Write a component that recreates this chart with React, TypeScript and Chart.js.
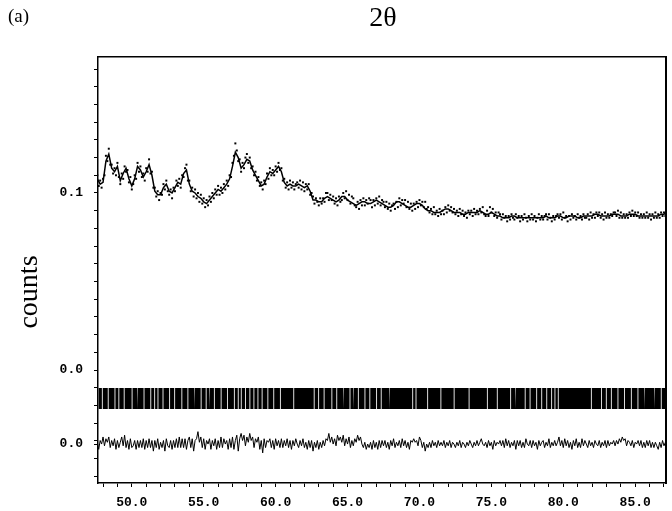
import React, { useEffect, useRef } from 'react';
import { Chart, registerables } from 'chart.js';

Chart.register(...registerables);

// ---- axis ranges / labels ----
const X_MIN = 47.65;
const X_MAX = 87.14;
const Y_MIN = -0.0638;
const Y_MAX = 0.1768;
const xMinorStep = 1;
const xMajorEvery = 5;
const yMinorStep = 0.01;
const diffOffset = -0.0418;
const yLabelValues = [0.1, 0.0, diffOffset];
const yLabelTexts = ['0.1', '0.0', '0.0'];

// ---- calculated profile (2θ start/step) ----
const calcStart = 47.6;
const calcStep = 0.2;
const calcValues = [
  0.108,0.105,0.106,0.118,0.122,0.114,0.112,0.115,0.107,0.111,
  0.114,0.108,0.104,0.108,0.115,0.113,0.109,0.112,0.116,0.110,
  0.101,0.099,0.099,0.103,0.105,0.101,0.100,0.103,0.106,0.105,
  0.111,0.113,0.105,0.101,0.100,0.098,0.097,0.095,0.094,0.096,
  0.098,0.100,0.102,0.101,0.103,0.105,0.108,0.115,0.123,0.120,
  0.114,0.116,0.119,0.118,0.113,0.110,0.107,0.104,0.105,0.109,
  0.112,0.111,0.113,0.115,0.112,0.106,0.104,0.105,0.104,0.104,
  0.105,0.104,0.103,0.104,0.101,0.096,0.096,0.095,0.095,0.097,
  0.098,0.097,0.096,0.095,0.096,0.098,0.098,0.096,0.095,0.094,
  0.093,0.094,0.095,0.095,0.094,0.094,0.095,0.096,0.095,0.094,
  0.093,0.092,0.092,0.093,0.095,0.095,0.094,0.093,0.092,0.092,
  0.093,0.094,0.094,0.093,0.091,0.090,0.090,0.089,0.089,0.089,
  0.090,0.091,0.091,0.090,0.089,0.089,0.089,0.088,0.088,0.089,
  0.089,0.089,0.089,0.090,0.089,0.088,0.088,0.089,0.088,0.087,
  0.087,0.086,0.086,0.086,0.087,0.087,0.086,0.086,0.086,0.086,
  0.086,0.086,0.086,0.086,0.086,0.086,0.087,0.086,0.086,0.086,
  0.087,0.087,0.086,0.086,0.087,0.087,0.087,0.086,0.086,0.087,
  0.087,0.087,0.087,0.088,0.088,0.087,0.087,0.087,0.087,0.088,
  0.088,0.088,0.087,0.087,0.087,0.088,0.088,0.088,0.087,0.087,
  0.087,0.087,0.087,0.087,0.087,0.087,0.088,0.088,0.089,
];

// ---- observed counts (2θ start/step) ----
const obsStart = 47.6;
const obsStep = 0.1;
const obsValues = [
  0.110,0.104,0.107,0.103,0.108,0.110,0.121,0.118,0.125,0.116,
  0.116,0.111,0.114,0.110,0.117,0.109,0.105,0.111,0.108,0.115,
  0.112,0.113,0.106,0.109,0.102,0.105,0.110,0.108,0.117,0.112,
  0.115,0.109,0.111,0.107,0.114,0.112,0.119,0.111,0.112,0.103,
  0.103,0.098,0.101,0.096,0.100,0.099,0.105,0.102,0.107,0.101,
  0.099,0.102,0.097,0.103,0.101,0.107,0.104,0.108,0.103,0.110,
  0.109,0.114,0.116,0.107,0.107,0.101,0.103,0.098,0.102,0.097,
  0.100,0.095,0.099,0.094,0.097,0.092,0.096,0.093,0.098,0.095,
  0.100,0.097,0.102,0.099,0.104,0.099,0.103,0.100,0.105,0.102,
  0.107,0.104,0.110,0.109,0.117,0.121,0.128,0.124,0.118,0.119,
  0.112,0.117,0.114,0.120,0.122,0.117,0.120,0.114,0.115,0.110,
  0.112,0.107,0.109,0.104,0.106,0.102,0.107,0.105,0.111,0.108,
  0.114,0.110,0.113,0.110,0.115,0.112,0.117,0.113,0.114,0.107,
  0.108,0.103,0.106,0.102,0.107,0.103,0.106,0.102,0.105,0.106,
  0.103,0.107,0.102,0.106,0.101,0.105,0.102,0.105,0.099,0.100,
  0.098,0.094,0.097,0.095,0.093,0.097,0.094,0.097,0.095,0.100,
  0.100,0.096,0.099,0.096,0.098,0.094,0.097,0.093,0.098,0.095,
  0.096,0.100,0.097,0.101,0.096,0.099,0.094,0.098,0.097,0.093,
  0.092,0.095,0.091,0.096,0.093,0.097,0.093,0.096,0.094,0.097,
  0.096,0.092,0.096,0.093,0.097,0.094,0.098,0.093,0.096,0.095,
  0.092,0.095,0.091,0.094,0.090,0.093,0.094,0.091,0.095,0.092,
  0.097,0.093,0.096,0.094,0.096,0.092,0.095,0.091,0.094,0.090,
  0.094,0.091,0.095,0.092,0.096,0.093,0.095,0.092,0.095,0.091,
  0.092,0.089,0.091,0.088,0.092,0.088,0.090,0.087,0.091,0.088,
  0.090,0.088,0.092,0.089,0.093,0.090,0.092,0.089,0.091,0.088,
  0.090,0.087,0.091,0.088,0.090,0.087,0.089,0.086,0.090,0.088,
  0.090,0.087,0.091,0.088,0.090,0.088,0.091,0.089,0.092,0.088,
  0.087,0.090,0.087,0.092,0.089,0.091,0.087,0.089,0.086,0.089,
  0.088,0.085,0.088,0.086,0.087,0.084,0.087,0.085,0.088,0.086,
  0.085,0.088,0.086,0.087,0.084,0.087,0.085,0.088,0.086,0.084,
  0.087,0.085,0.088,0.085,0.087,0.084,0.086,0.088,0.085,0.087,
  0.085,0.087,0.088,0.085,0.088,0.086,0.084,0.087,0.085,0.087,
  0.088,0.086,0.088,0.085,0.089,0.086,0.087,0.084,0.087,0.085,
  0.088,0.086,0.087,0.085,0.088,0.086,0.087,0.085,0.088,0.086,
  0.086,0.088,0.085,0.089,0.086,0.088,0.086,0.089,0.087,0.089,
  0.086,0.088,0.085,0.089,0.086,0.088,0.086,0.088,0.087,0.089,
  0.089,0.087,0.090,0.086,0.089,0.086,0.088,0.086,0.088,0.086,
  0.089,0.087,0.090,0.087,0.089,0.087,0.089,0.086,0.088,0.086,
  0.088,0.086,0.089,0.086,0.088,0.085,0.088,0.086,0.089,0.086,
  0.088,0.086,0.089,0.087,0.089,0.087,0.090,
];

// ---- difference (obs - calc), same grid as obs ----
const diffValues = [
  0.001,-0.003,0.002,0.000,0.004,-0.001,0.003,0.001,0.004,-0.002,
  0.002,-0.001,0.003,-0.003,0.002,-0.002,0.001,0.004,-0.001,0.005,
  -0.002,0.002,-0.003,0.003,-0.002,-0.001,0.002,-0.003,0.002,-0.002,
  0.002,-0.002,0.003,-0.003,0.002,-0.002,0.003,-0.002,0.002,-0.004,
  0.002,-0.002,0.003,-0.003,0.001,-0.002,0.002,-0.004,0.003,-0.001,
  -0.002,0.002,-0.003,0.002,-0.002,0.003,-0.002,0.004,-0.002,0.003,
  -0.002,0.003,-0.003,0.002,0.004,-0.002,0.003,-0.004,0.002,0.003,
  0.007,0.001,0.004,-0.002,0.003,-0.003,0.002,0.000,0.003,-0.003,
  0.002,-0.001,0.003,-0.003,0.002,-0.002,0.004,-0.002,0.003,0.000,
  0.002,-0.003,0.003,-0.002,0.004,-0.003,0.002,0.005,-0.004,0.003,
  0.006,0.002,0.005,-0.001,0.004,0.001,0.006,0.002,0.004,-0.002,
  0.003,0.001,0.004,-0.003,0.002,-0.005,0.003,-0.002,0.002,0.001,
  0.003,-0.002,0.002,-0.003,0.003,-0.001,0.002,-0.002,0.003,-0.002,
  0.002,-0.001,0.003,-0.002,0.002,-0.003,0.002,-0.001,0.003,0.000,
  -0.002,0.002,-0.001,0.003,-0.002,0.001,-0.003,0.002,-0.002,0.002,
  -0.004,0.001,-0.002,0.002,-0.003,0.001,-0.002,0.002,-0.001,0.003,
  0.002,0.006,0.001,0.004,0.000,0.003,-0.001,0.005,0.002,0.004,
  0.001,0.005,-0.001,0.003,0.000,0.004,-0.002,0.002,-0.001,0.003,
  0.001,0.005,0.002,0.004,0.000,-0.002,0.001,-0.003,0.000,-0.002,
  0.001,-0.003,0.002,-0.002,0.001,-0.003,0.002,-0.002,0.002,-0.001,
  0.002,-0.002,0.001,-0.003,0.002,-0.001,0.003,-0.002,0.001,-0.001,
  0.002,-0.002,0.003,-0.001,0.002,-0.002,0.001,-0.003,0.002,0.001,
  0.003,0.001,0.002,-0.001,0.004,0.002,-0.002,0.001,-0.004,0.000,
  -0.002,0.001,-0.002,0.002,-0.001,0.001,-0.002,0.002,-0.001,0.001,
  -0.001,0.002,-0.002,0.001,-0.001,0.002,-0.002,0.001,0.000,-0.002,
  0.001,-0.001,0.002,-0.002,0.001,0.000,-0.002,0.001,-0.001,0.002,
  0.000,-0.002,0.001,-0.001,0.002,-0.001,0.001,0.003,0.000,-0.001,
  0.001,-0.002,0.002,-0.001,0.001,-0.003,0.002,-0.001,0.001,0.000,
  0.002,-0.001,0.002,-0.002,0.003,-0.001,0.002,-0.002,0.001,-0.001,
  0.002,-0.003,0.002,-0.001,0.002,-0.002,0.001,-0.002,0.003,0.000,
  -0.001,0.002,-0.002,0.002,-0.001,0.001,-0.003,0.002,-0.001,0.001,
  0.002,-0.002,0.001,-0.001,0.003,-0.002,0.001,-0.001,0.002,-0.001,
  0.001,0.004,-0.001,0.002,-0.002,0.003,-0.001,0.002,-0.002,0.001,
  -0.003,0.002,-0.001,0.003,-0.002,0.001,-0.002,0.003,-0.001,0.002,
  0.000,-0.002,0.002,-0.001,0.001,-0.002,0.002,0.000,-0.001,0.002,
  -0.002,0.001,-0.001,0.002,-0.002,0.002,-0.001,0.001,0.000,0.002,
  -0.001,0.002,0.000,0.003,0.001,0.004,0.002,0.003,-0.001,0.002,
  0.001,-0.001,0.002,-0.002,0.001,0.000,0.002,-0.001,0.002,-0.002,
  0.001,-0.002,0.002,-0.001,0.002,-0.002,0.001,-0.002,0.001,-0.001,
  -0.003,0.001,-0.002,0.002,-0.001,0.001,-0.002,
];

// ---- reflection-marker band: runs of markers in 2θ ----
const tickBandTop = -0.0102;
const tickBandBottom = -0.022;
const reflectionRuns: [number, number][] = [
  [47.68,47.92],[47.98,48.33],[48.39,48.80],[48.86,49.07],[49.13,49.44],[49.50,49.99],
  [50.05,50.37],[50.43,50.82],[50.88,51.29],[51.35,51.56],[51.62,51.79],[51.85,52.14],
  [52.20,52.60],[52.66,52.95],[53.01,53.45],[53.51,53.87],[53.93,54.33],[54.39,54.79],
  [54.85,55.14],[55.20,55.37],[55.43,55.71],[55.77,56.18],[56.24,56.63],[56.69,57.10],
  [57.16,57.37],[57.43,57.58],[57.64,57.88],[57.94,58.18],[58.24,58.46],[58.52,58.74],
  [58.80,59.03],[59.09,59.43],[59.49,59.84],[59.90,60.30],[60.36,61.23],[61.29,62.65],
  [62.71,62.96],[63.02,63.34],[63.40,63.88],[63.94,64.22],[64.28,64.69],[64.75,65.14],
  [65.20,65.38],[65.44,65.72],[65.78,66.18],[66.24,66.52],[66.58,66.99],[67.05,67.31],
  [67.37,67.89],[67.95,69.50],[69.56,69.73],[69.79,70.54],[70.60,71.46],[71.52,72.38],
  [72.44,73.42],[73.48,74.69],[74.75,75.38],[75.44,76.31],[76.37,76.65],[76.71,77.32],
  [77.38,77.66],[77.72,78.12],[78.18,78.47],[78.53,78.82],[78.88,79.16],[79.22,79.39],
  [79.45,79.62],[79.68,81.92],[81.98,82.62],[82.68,82.96],[83.02,83.31],[83.37,83.77],
  [83.83,84.23],[84.29,84.70],[84.76,85.16],[85.22,85.62],[85.68,86.31],[86.37,86.78],
  [86.84,87.14],
];

const MONO = "'Liberation Mono', 'DejaVu Sans Mono', monospace";
const SERIF = "'Liberation Serif', 'DejaVu Serif', serif";

export default function App() {
  const canvasRef = useRef<HTMLCanvasElement | null>(null);

  useEffect(() => {
    const canvas = canvasRef.current;
    if (!canvas) return;

    const calcData = calcValues.map((v, i) => ({ x: +(calcStart + i * calcStep).toFixed(2), y: v }));
    const obsData = obsValues.map((v, i) => ({ x: +(obsStart + i * obsStep).toFixed(2), y: v }));
    const diffData = diffValues.map((v, i) => ({ x: +(obsStart + i * obsStep).toFixed(2), y: diffOffset + v }));
    const bandData: { x: number; y: number }[] = [];
    reflectionRuns.forEach(([s, e]) => {
      bandData.push({ x: s, y: tickBandBottom });
      bandData.push({ x: s, y: tickBandTop });
      bandData.push({ x: e, y: tickBandTop });
      bandData.push({ x: e, y: tickBandBottom });
    });

    const chart = new Chart(canvas, {
      type: 'line',
      data: {
        datasets: [
          {
            label: 'calc',
            data: calcData,
            borderColor: '#000',
            borderWidth: 1.5,
            pointRadius: 0,
            tension: 0,
            fill: false,
          },
          {
            label: 'obs',
            data: obsData,
            showLine: false,
            pointStyle: 'rect',
            pointRadius: 1.4,
            pointBorderWidth: 0,
            pointBackgroundColor: '#000',
            borderColor: '#000',
            backgroundColor: '#000',
          },
          {
            label: 'reflections',
            data: bandData,
            borderColor: 'rgba(0,0,0,0)',
            borderWidth: 0,
            backgroundColor: '#000',
            pointRadius: 0,
            tension: 0,
            fill: { value: tickBandBottom },
          },
          {
            label: 'diff',
            data: diffData,
            borderColor: '#000',
            borderWidth: 1,
            pointRadius: 0,
            tension: 0,
            fill: false,
          },
        ],
      },
      options: {
        animation: false,
        responsive: false,
        devicePixelRatio: 1,
        layout: { padding: 0 },
        plugins: {
          legend: { display: false },
          tooltip: { enabled: false },
          title: { display: false },
        },
        scales: {
          x: {
            type: 'linear',
            position: 'bottom',
            min: X_MIN,
            max: X_MAX,
            afterBuildTicks: (s: any) => {
              const t: { value: number }[] = [];
              for (let v = Math.ceil(X_MIN); v <= X_MAX; v += xMinorStep) t.push({ value: v });
              s.ticks = t;
            },
            afterFit: (s: any) => { s.height = 28; },
            ticks: {
              autoSkip: false,
              maxRotation: 0,
              padding: 8,
              color: '#000',
              font: { family: MONO, size: 13, weight: 'bold' },
              callback: (v: any) => (Math.abs(v % xMajorEvery) < 1e-9 ? Number(v).toFixed(1) : ''),
            },
            grid: { display: true, drawOnChartArea: false, drawTicks: true, tickLength: 4, color: '#000', lineWidth: 1 },
            border: { display: true, color: '#000', width: 1.5 },
          },
          xTop: {
            type: 'linear',
            position: 'top',
            min: X_MIN,
            max: X_MAX,
            afterFit: (s: any) => { s.height = 57; },
            ticks: { display: false },
            grid: { display: false },
            border: { display: true, color: '#000', width: 1.5 },
          },
          y: {
            type: 'linear',
            position: 'left',
            min: Y_MIN,
            max: Y_MAX,
            afterBuildTicks: (s: any) => {
              const vals: number[] = [];
              for (let k = -6; k <= 17; k++) vals.push(+(k * yMinorStep).toFixed(3));
              vals.push(diffOffset);
              vals.sort((a, b) => a - b);
              s.ticks = vals.map((v) => ({ value: v }));
            },
            afterFit: (s: any) => { s.width = 98; },
            ticks: {
              autoSkip: false,
              padding: 11,
              color: '#000',
              font: { family: MONO, size: 13, weight: 'bold' },
              callback: (v: any) => {
                for (let i = 0; i < yLabelValues.length; i++) {
                  if (Math.abs(Number(v) - yLabelValues[i]) < 1e-6) return yLabelTexts[i];
                }
                return '';
              },
            },
            grid: { display: true, drawOnChartArea: false, drawTicks: true, tickLength: 4, color: '#000', lineWidth: 1 },
            border: { display: true, color: '#000', width: 1.5 },
          },
          yRight: {
            type: 'linear',
            position: 'right',
            min: Y_MIN,
            max: Y_MAX,
            afterFit: (s: any) => { s.width = 3; },
            ticks: { display: false },
            grid: { display: false },
            border: { display: true, color: '#000', width: 2 },
          },
        },
      } as any,
    });

    return () => chart.destroy();
  }, []);

  return (
    <div style={{ position: 'fixed', left: 0, top: 0, width: 672, height: 511, background: '#fff', overflow: 'hidden' }}>
      <canvas ref={canvasRef} width={672} height={511} style={{ display: 'block', width: 672, height: 511 }} />
      <div style={{ position: 'absolute', left: 8, top: 6, fontFamily: SERIF, fontSize: 19, lineHeight: 1, color: '#000' }}>(a)</div>
      <div style={{ position: 'absolute', left: 383, top: 3, transform: 'translateX(-50%)', fontFamily: SERIF, fontSize: 28, lineHeight: 1, color: '#000', whiteSpace: 'nowrap' }}>2θ</div>
      <div style={{ position: 'absolute', left: 28, top: 292, transform: 'translate(-50%, -50%) rotate(-90deg)', fontFamily: SERIF, fontSize: 28, lineHeight: 1, color: '#000', whiteSpace: 'nowrap' }}>counts</div>
    </div>
  );
}
